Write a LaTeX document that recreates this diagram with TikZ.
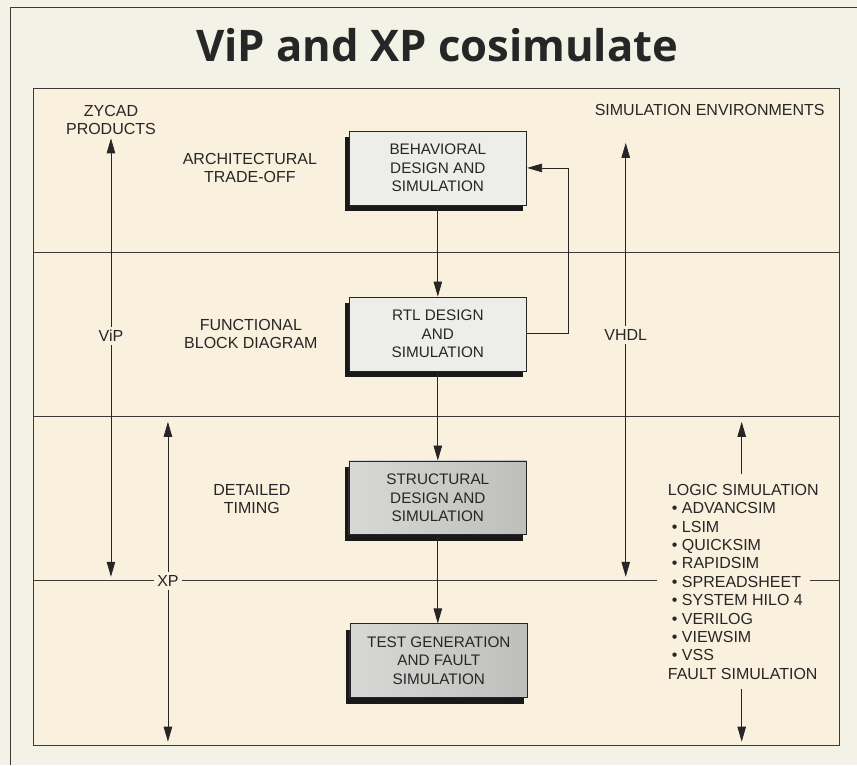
\documentclass[tikz,border=0pt]{standalone}
\usepackage{fontspec}
\setmainfont{Liberation Sans}
\newfontfamily\titlefont{Open Sans}
\usetikzlibrary{arrows.meta,shadows}
\definecolor{page-bg}{HTML}{F3F2E6}
\definecolor{panel-bg}{HTML}{FAF0DE}
\definecolor{rule-gray}{HTML}{3C3A36}
\definecolor{box-light}{HTML}{EDEEEA}
\definecolor{box-dark-l}{HTML}{D8D8D6}
\definecolor{box-dark-r}{HTML}{BEBEBC}

\begin{document}
\begin{tikzpicture}[x=1pt, y=-1pt,
          every node/.style={font=\fontsize{16}{18.4}\selectfont, text=black!85},
          rule/.style={draw=rule-gray, line width=0.7pt},
          arr/.style={draw=black!85, line width=0.8pt,
                      -{Triangle[length=15pt, width=8.5pt]}},
          stagebox/.style={draw=black!85, line width=0.6pt, align=center,
                      font=\fontsize{15.3}{18.5}\selectfont,
                      minimum width=178pt, minimum height=74pt,
                      drop shadow={shadow xshift=-4pt, shadow yshift=-6pt,
                                   fill=black!90, opacity=1}},
          lightbox/.style={stagebox, fill=box-light},
          darkbox/.style={stagebox, left color=box-dark-l, right color=box-dark-r},
          lbl/.style={align=center, fill=panel-bg}]
        % Diagram: 4 design stages stacked at x=438 inside a panel split by
        % 3 rules; tool ranges (ViP, XP, VHDL, logic sim) as arrows on the sides.
        % Coordinates: (x,y) in pt, y grows downwards
        \fill[page-bg] (0,0) rectangle (857,765);
        \draw[rule] (10,765) -- (10,7) -- (857,7);
        \filldraw[rule, fill=panel-bg] (33,88) rectangle (840,746);
        \draw[rule] (33,252) -- (840,252);
        \draw[rule] (33,417) -- (840,417);
        \draw[rule] (33,581) -- (657,581);
        \draw[rule] (810,581) -- (840,581);

        \node[font=\titlefont\bfseries\fontsize{43.6}{44}\selectfont, anchor=base]
              (TTL) at (437.5,62) {ViP and XP cosimulate};

        \node[lightbox] (BEH) at (438,168) {BEHAVIORAL\\DESIGN AND\\SIMULATION};
        \node[lightbox] (RTL) at (438,334) {RTL DESIGN\\AND\\SIMULATION};
        \node[darkbox] (STR) at (438,498) {STRUCTURAL\\DESIGN AND\\SIMULATION};
        \node[darkbox] (TST) at (439,661) {TEST GENERATION\\AND FAULT\\SIMULATION};

        \node[lbl] (ZYC) at (111,120) {ZYCAD\\PRODUCTS};
        \node[lbl] (ARC) at (250,168) {ARCHITECTURAL\\TRADE-OFF};
        \node[lbl] (FUN) at (251,334) {FUNCTIONAL\\BLOCK DIAGRAM};
        \node[lbl] (DET) at (252,499) {DETAILED\\TIMING};
        \node[lbl] (VIP) at (111,336) {ViP};
        \node[lbl] (XP) at (168,581) {XP};
        \node[lbl] (VHD) at (626,335) {VHDL};
        \node[lbl] (ENV) at (710,110) {SIMULATION ENVIRONMENTS};
        \node[align=left, inner sep=0pt, outer ysep=10pt, anchor=west]
              (LOG) at (668,582) {LOGIC SIMULATION\\
              \hspace*{4pt}\textbullet\ ADVANCSIM\\
              \hspace*{4pt}\textbullet\ LSIM\\
              \hspace*{4pt}\textbullet\ QUICKSIM\\
              \hspace*{4pt}\textbullet\ RAPIDSIM\\
              \hspace*{4pt}\textbullet\ SPREADSHEET\\
              \hspace*{4pt}\textbullet\ SYSTEM HILO 4\\
              \hspace*{4pt}\textbullet\ VERILOG\\
              \hspace*{4pt}\textbullet\ VIEWSIM\\
              \hspace*{4pt}\textbullet\ VSS\\
              FAULT SIMULATION};

        \coordinate (VIPdn) at (111,577);
        \coordinate (XPup) at (168,422);
        \coordinate (XPdn) at (168,742);
        \coordinate (VHup) at (626,143);
        \coordinate (VHdn) at (626,577);
        \coordinate (LGup) at (742,422);
        \coordinate (LGdn) at (742,742);

        \draw[arr] (BEH.south) -- (RTL.north);
        \draw[arr] (RTL.south) -- (STR.north);
        \draw[arr] (STR.south) -- (STR.south |- TST.north);
        \draw[arr] (RTL.east) -- ++(41,0) |- (BEH.east);

        \draw[arr] (VIP) -- (ZYC);
        \draw[arr] (VIP) -- (VIPdn);
        \draw[arr] (XP) -- (XPup);
        \draw[arr] (XP) -- (XPdn);
        \draw[arr] (VHD) -- (VHup);
        \draw[arr] (VHD) -- (VHdn);
        \draw[arr] (LOG.north -| LGup) -- (LGup);
        \draw[arr] (LOG.south -| LGdn) -- (LGdn);
      \end{tikzpicture}
\end{document}
